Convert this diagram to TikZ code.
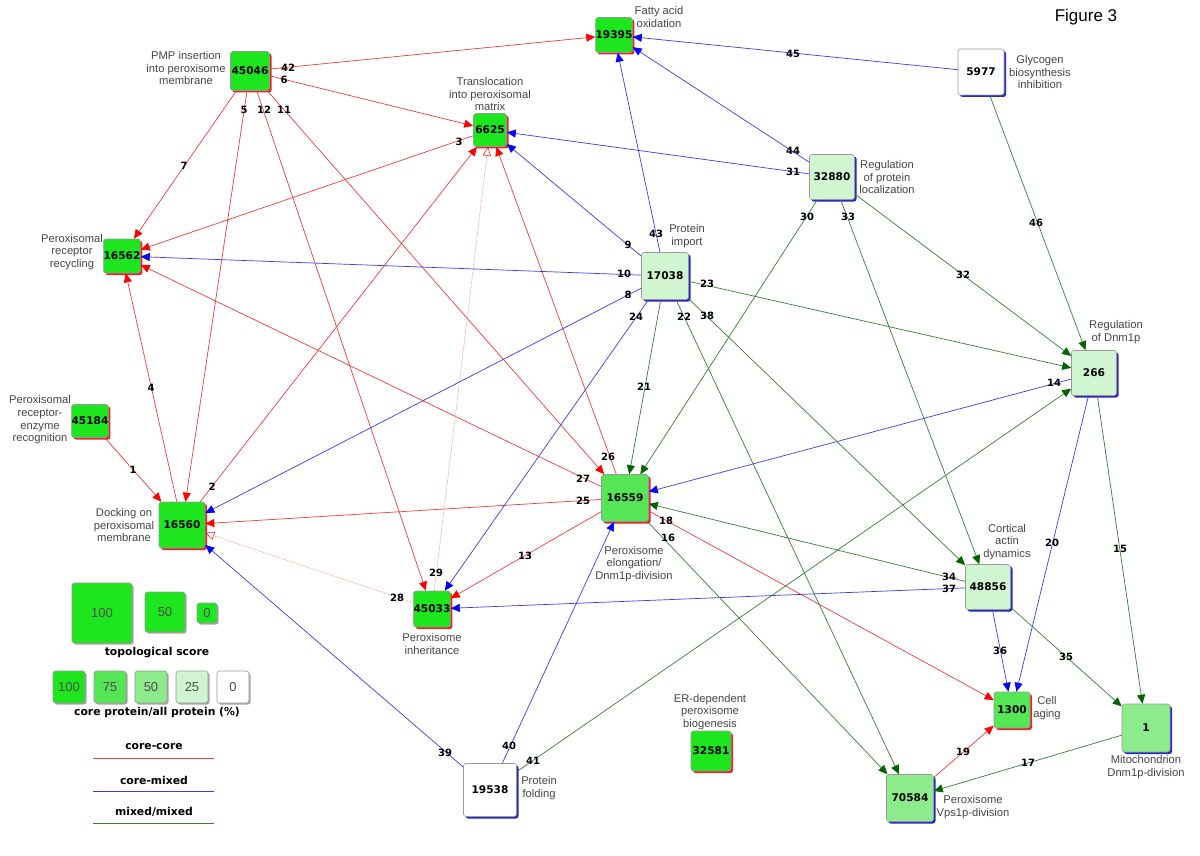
\documentclass[tikz,border=0pt]{standalone}
\usepackage{fontspec}
\setmainfont{Liberation Sans}
\newfontfamily\dvs{DejaVu Sans}
\usetikzlibrary{arrows.meta,shadows}
\definecolor{cA}{RGB}{30,230,30}
\definecolor{cB}{RGB}{85,230,85}
\definecolor{cC}{RGB}{140,236,140}
\definecolor{cD}{RGB}{208,245,208}
\definecolor{lred}{RGB}{240,60,60}
\definecolor{lblue}{RGB}{60,60,230}
\definecolor{lgreen}{RGB}{55,125,55}
\definecolor{ared}{RGB}{255,0,0}
\definecolor{ablue}{RGB}{0,0,255}
\definecolor{agreen}{RGB}{0,100,0}
\definecolor{lpink}{RGB}{245,140,140}
\definecolor{shred}{RGB}{225,40,40}
\definecolor{shblue}{RGB}{40,40,200}
\definecolor{labgray}{RGB}{70,70,70}
\tikzset{
  pn/.style={draw=black!40, line width=0.6pt, rounded corners=2.5pt, minimum size=#1, inner sep=0pt, font=\dvs\bfseries\fontsize{10.6}{12}\selectfont},
  rsh/.style={drop shadow={shadow xshift=2pt, shadow yshift=-2pt, fill=shred, opacity=1}},
  bsh/.style={drop shadow={shadow xshift=2pt, shadow yshift=-2pt, fill=shblue, opacity=1}},
  gsh/.style={drop shadow={shadow xshift=1.5pt, shadow yshift=-1.5pt, fill=black!35, opacity=1}},
  lgbox/.style={draw=black!40, line width=0.6pt, rounded corners=2.5pt, minimum size=#1, inner sep=0pt, font=\fontsize{13}{15}\selectfont, text=black!70, gsh},
  lab/.style={font=\fontsize{11.2}{12.6}\selectfont, text=labgray, align=center, inner sep=0pt},
  elab/.style={font=\dvs\bfseries\fontsize{10}{11}\selectfont, inner sep=0pt},
  legt/.style={font=\dvs\bfseries\fontsize{10.8}{12}\selectfont, inner sep=0pt},
  ecc/.style={draw=lred, line width=0.7pt, -{Triangle[length=9pt,width=8pt,color=ared]}},
  ecm/.style={draw=lblue, line width=0.7pt, -{Triangle[length=9pt,width=8pt,color=ablue]}},
  emm/.style={draw=lgreen, line width=0.7pt, -{Triangle[length=9pt,width=8pt,color=agreen]}},
  eweak/.style={draw=lpink, line width=0.5pt, dash pattern=on 1.5pt off 1pt, -{Triangle[open,length=9pt,width=8pt,color=ared,fill=white]}},
}
\begin{document}
\begin{tikzpicture}[x=1pt,y=-1pt]
\useasboundingbox (0,0) rectangle (1200,856);
\fill[white] (0,0) rectangle (1200,856);

% nodes
\node[pn=39pt, fill=cA, rsh] (n45046) at (250,71) {45046};
\node[pn=35pt, fill=cA, rsh] (n19395) at (614,35) {19395};
\node[pn=33pt, fill=cA, rsh] (n6625) at (490,130) {6625};
\node[pn=46pt, fill=white, bsh] (n5977) at (981,72) {5977};
\node[pn=45pt, fill=cD, bsh] (n32880) at (832,177) {32880};
\node[pn=34pt, fill=cA, rsh] (n16562) at (122,256) {16562};
\node[pn=47pt, fill=cD, bsh] (n17038) at (665,276) {17038};
\node[pn=33pt, fill=cA, rsh] (n45184) at (90,421) {45184};
\node[pn=46pt, fill=cA, rsh] (n16560) at (182,525) {16560};
\node[pn=47pt, fill=cB, rsh] (n16559) at (625,498) {16559};
\node[pn=45pt, fill=cD, bsh] (n266) at (1094,373) {266};
\node[pn=45pt, fill=cD, bsh] (n48856) at (988,587) {48856};
\node[pn=36pt, fill=cA, rsh] (n45033) at (432,609) {45033};
\node[pn=53pt, fill=white, bsh] (n19538) at (490,790) {19538};
\node[pn=40pt, fill=cA, rsh] (n32581) at (711,751) {32581};
\node[pn=36pt, fill=cB, rsh] (n1300) at (1012,710) {1300};
\node[pn=48pt, fill=cC, bsh] (n1) at (1146,728) {1};
\node[pn=47pt, fill=cC, bsh] (n70584) at (910,798) {70584};

% node labels
\node[lab] (t45046) at (186,68) {PMP insertion\\into peroxisome\\membrane};
\node[lab] (t19395) at (659,17) {Fatty acid\\oxidation};
\node[lab] (t6625) at (490,94) {Translocation\\into peroxisomal\\matrix};
\node[lab] (t5977) at (1040,72) {Glycogen\\biosynthesis\\inhibition};
\node[lab] (t32880) at (887,177) {Regulation\\of protein\\localization};
\node[lab] (t16562) at (72,252) {Peroxisomal\\receptor\\recycling};
\node[lab] (t17038) at (687,236) {Protein\\import};
\node[lab] (t45184) at (40,420) {Peroxisomal\\receptor-\\enzyme\\recognition};
\node[lab] (t16560) at (124,525) {Docking on\\peroxisomal\\membrane};
\node[lab] (t16559) at (634,564) {Peroxisome\\elongation/\\Dnm1p-division};
\node[lab] (t266) at (1116,332) {Regulation\\of Dnm1p};
\node[lab] (t48856) at (1007,542) {Cortical\\actin\\dynamics};
\node[lab] (t45033) at (432,644) {Peroxisome\\inheritance};
\node[lab] (t19538) at (539,788) {Protein\\folding};
\node[lab] (t32581) at (710,712) {ER-dependent\\peroxisome\\biogenesis};
\node[lab] (t1300) at (1047,708) {Cell\\aging};
\node[lab] (t1) at (1146,767) {Mitochondrion\\Dnm1p-division};
\node[lab] (t70584) at (973,807) {Peroxisome\\Vps1p-division};
\node[font=\fontsize{17}{20}\selectfont, inner sep=0pt] (fig) at (1086,17) {Figure 3};

% core-core edges
\draw[ecc] (n45046) -- (n19395);
\draw[ecc] (n45046) -- (n6625);
\draw[ecc] (n45046) -- (n16560);
\draw[ecc] (n45046) -- (n45033);
\draw[ecc] (n45046) -- (n16559);
\draw[ecc] (n45046) -- (n16562);
\draw[ecc] (n6625) -- (n16562);
\draw[ecc] (n16560) -- (n16562);
\draw[ecc] (n45184) -- (n16560);
\draw[ecc] (n16560) -- (n6625);
\draw[ecc] (n16559) -- (n16562);
\draw[ecc] (n16559) -- (n16560);
\draw[ecc] (n16559) -- (n6625);
\draw[ecc] (n16559) -- (n45033);
\draw[ecc] (n16559) -- (n1300);
\draw[ecc] (n70584) -- (n1300);
\draw[eweak] (n45033) -- (n16560);
\draw[eweak] (n45033) -- (n6625);

% core-mixed edges
\draw[ecm] (n5977) -- (n19395);
\draw[ecm] (n32880) -- (n19395);
\draw[ecm] (n32880) -- (n6625);
\draw[ecm] (n17038) -- (n19395);
\draw[ecm] (n17038) -- (n6625);
\draw[ecm] (n17038) -- (n16562);
\draw[ecm] (n17038) -- (n16560);
\draw[ecm] (n17038) -- (n45033);
\draw[ecm] (n266) -- (n16559);
\draw[ecm] (n266) -- (n1300);
\draw[ecm] (n48856) -- (n1300);
\draw[ecm] (n48856) -- (n45033);
\draw[ecm] (n19538) -- (n16560);
\draw[ecm] (n19538) -- (n16559);

% mixed-mixed edges
\draw[emm] (n5977) -- (n266);
\draw[emm] (n32880) -- (n266);
\draw[emm] (n32880) -- (n16559);
\draw[emm] (n32880) -- (n48856);
\draw[emm] (n17038) -- (n266);
\draw[emm] (n17038) -- (n16559);
\draw[emm] (n17038) -- (n70584);
\draw[emm] (n17038) -- (n48856);
\draw[emm] (n16559) -- (n70584);
\draw[emm] (n48856) -- (n16559);
\draw[emm] (n48856) -- (n1);
\draw[emm] (n266) -- (n1);
\draw[emm] (n1) -- (n70584);
\draw[emm] (n19538) -- (n266);

% edge labels
\node[elab] (e42) at (288,68) {42};
\node[elab] (e6) at (284,80) {6};
\node[elab] (e5) at (244,110) {5};
\node[elab] (e12) at (264,110) {12};
\node[elab] (e11) at (284,110) {11};
\node[elab] (e7) at (184,166) {7};
\node[elab] (e3) at (459,142) {3};
\node[elab] (e4) at (151,388) {4};
\node[elab] (e1) at (133,470) {1};
\node[elab] (e2) at (212,487) {2};
\node[elab] (e26) at (608,457) {26};
\node[elab] (e27) at (583,479) {27};
\node[elab] (e25) at (583,501) {25};
\node[elab] (e18) at (666,521) {18};
\node[elab] (e16) at (668,538) {16};
\node[elab] (e13) at (525,556) {13};
\node[elab] (e29) at (436,573) {29};
\node[elab] (e28) at (397,598) {28};
\node[elab] (e19) at (963,752) {19};
\node[elab] (e45) at (793,54) {45};
\node[elab] (e44) at (793,151) {44};
\node[elab] (e31) at (793,172) {31};
\node[elab] (e43) at (656,234) {43};
\node[elab] (e9) at (628,245) {9};
\node[elab] (e10) at (624,274) {10};
\node[elab] (e8) at (628,295) {8};
\node[elab] (e24) at (636,317) {24};
\node[elab] (e14) at (1054,383) {14};
\node[elab] (e20) at (1052,543) {20};
\node[elab] (e36) at (1000,651) {36};
\node[elab] (e37) at (949,589) {37};
\node[elab] (e39) at (445,753) {39};
\node[elab] (e40) at (509,746) {40};
\node[elab] (e46) at (1036,223) {46};
\node[elab] (e32) at (963,275) {32};
\node[elab] (e30) at (807,217) {30};
\node[elab] (e33) at (848,217) {33};
\node[elab] (e23) at (707,284) {23};
\node[elab] (e21) at (644,387) {21};
\node[elab] (e22) at (684,317) {22};
\node[elab] (e38) at (707,316) {38};
\node[elab] (e34) at (949,577) {34};
\node[elab] (e35) at (1066,657) {35};
\node[elab] (e15) at (1120,549) {15};
\node[elab] (e17) at (1028,763) {17};
\node[elab] (e41) at (533,761) {41};

% legend
\node[lgbox=60pt, fill=cA] (lg100) at (102,613) {100};
\node[lgbox=40pt, fill=cA] (lg50) at (165,612) {50};
\node[lgbox=20pt, fill=cA] (lg0) at (207,613) {0};
\node[legt] (lgt) at (157,653) {topological score};
\node[lgbox=32pt, fill=cA] (lc100) at (69,687) {100};
\node[lgbox=32pt, fill=cB] (lc75) at (110,687) {75};
\node[lgbox=32pt, fill=cC] (lc50) at (151,687) {50};
\node[lgbox=32pt, fill=cD] (lc25) at (192,687) {25};
\node[lgbox=32pt, fill=white] (lc0) at (233,687) {0};
\node[legt] (lct) at (157,713) {core protein/all protein (\%)};
\node[legt] (lt1) at (154,747) {core-core};
\coordinate (la1) at (93,758);
\coordinate (lb1) at (214,758);
\draw[lred, line width=0.7pt] (la1) -- (lb1);
\node[legt] (lt2) at (154,780) {core-mixed};
\coordinate (la2) at (93,791);
\coordinate (lb2) at (214,791);
\draw[lblue, line width=0.7pt] (la2) -- (lb2);
\node[legt] (lt3) at (154,812) {mixed/mixed};
\coordinate (la3) at (93,823);
\coordinate (lb3) at (214,823);
\draw[lgreen, line width=0.7pt] (la3) -- (lb3);
\end{tikzpicture}
\end{document}
